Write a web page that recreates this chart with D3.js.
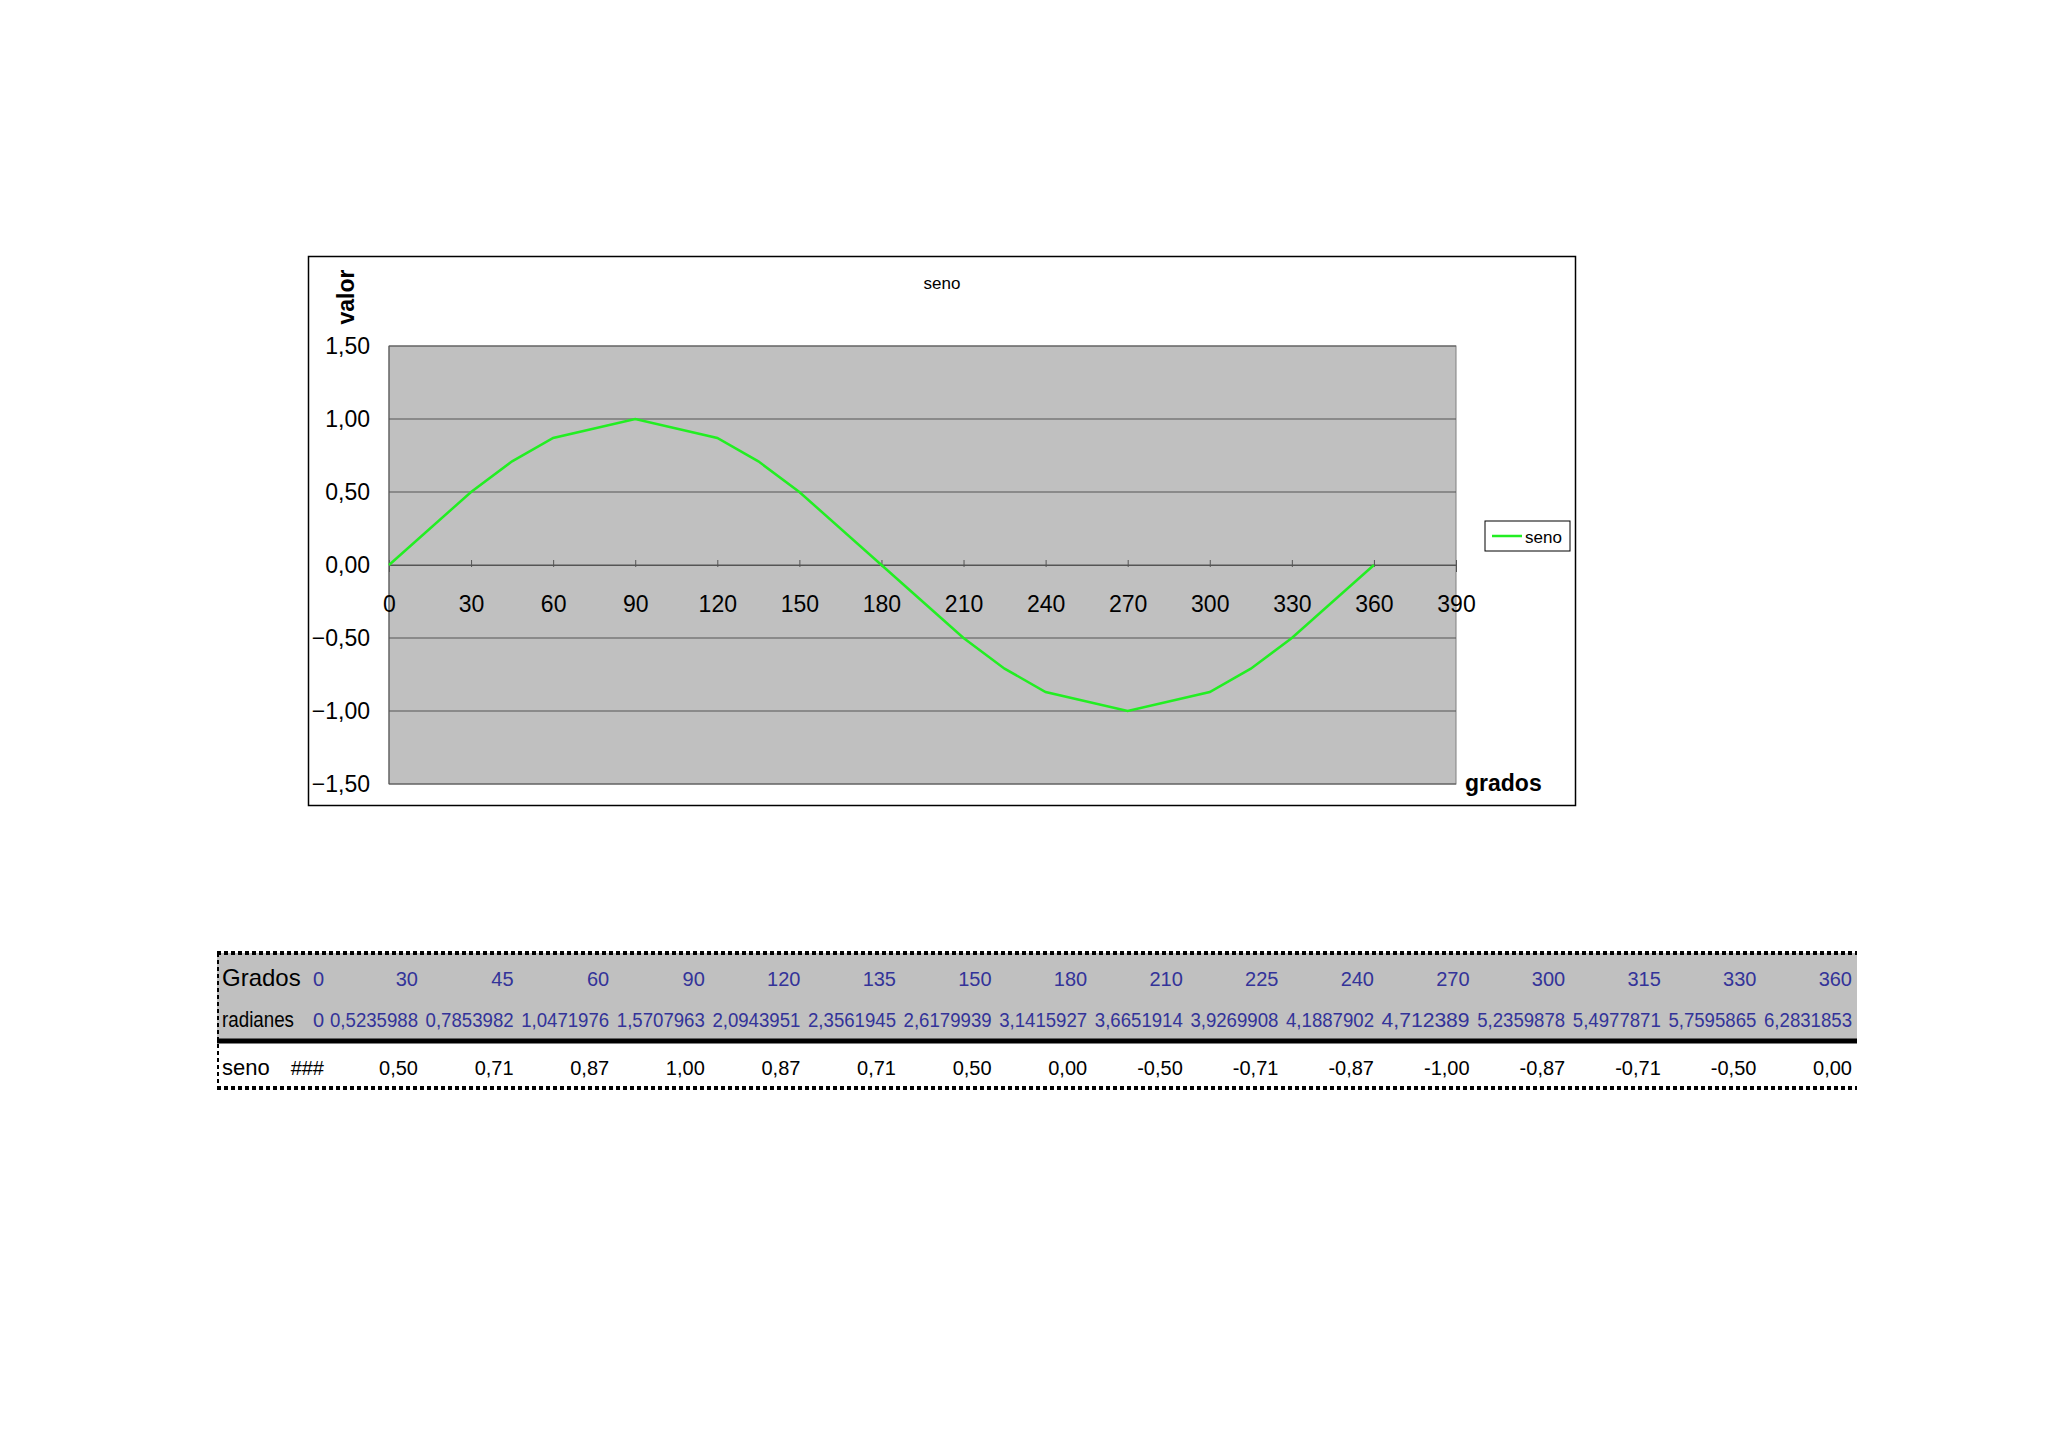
<!DOCTYPE html>
<html><head><meta charset="utf-8">
<script src="https://cdn.jsdelivr.net/npm/d3@7"></script>
<style>body{margin:0;background:#fff}</style></head>
<body><svg id="c" width="2048" height="1447"></svg>
<script>
const grados=[0,30,45,60,90,120,135,150,180,210,225,240,270,300,315,330,360];
const seno=[0,0.5,0.71,0.87,1,0.87,0.71,0.5,0,-0.5,-0.71,-0.87,-1,-0.87,-0.71,-0.5,0];
const radianesTxt=["0","0,5235988","0,7853982","1,0471976","1,5707963","2,0943951","2,3561945","2,6179939","3,1415927","3,6651914","3,9269908","4,1887902","4,712389","5,2359878","5,4977871","5,7595865","6,2831853"];
const senoTxt=["###","0,50","0,71","0,87","1,00","0,87","0,71","0,50","0,00","-0,50","-0,71","-0,87","-1,00","-0,87","-0,71","-0,50","0,00"];
const xTicks=d3.range(0,391,30);
const yTicks=[-1.5,-1,-0.5,0,0.5,1,1.5];

const svg=d3.select("#c");
const F="Arial, Liberation Sans, sans-serif";
svg.append("rect").attr("x",308.5).attr("y",256.5).attr("width",1267).attr("height",549).attr("fill","#fff").attr("stroke","#000").attr("stroke-width",1.5);
const x=d3.scaleLinear().domain([0,390]).range([389,1456]);
const y=d3.scaleLinear().domain([-1.5,1.5]).range([784,346]);
svg.append("rect").attr("x",389).attr("y",346).attr("width",1067).attr("height",438).attr("fill","#c0c0c0").attr("stroke","#808080");
svg.append("g").selectAll("line").data(yTicks).join("line").attr("x1",389).attr("x2",1456).attr("y1",d=>y(d)).attr("y2",d=>y(d)).attr("stroke","#555").attr("stroke-width",1);
// y axis
svg.append("line").attr("x1",389).attr("x2",389).attr("y1",346).attr("y2",784).attr("stroke","#555");
svg.append("g").selectAll("text").data(yTicks).join("text").attr("x",370).attr("y",d=>y(d)+8).attr("text-anchor","end").attr("font-family",F).attr("font-size",23).text(d=>d3.format(".2f")(d).replace(".",","));
// x axis at 0
const gx=svg.append("g").attr("transform",`translate(0,${y(0)})`).call(d3.axisBottom(x).tickValues(xTicks).tickSize(7).tickFormat(d=>d));
gx.select(".domain").attr("stroke","#555");
gx.selectAll(".tick line").attr("stroke","#555").attr("y1",-5).attr("y2",2);
gx.selectAll("text").attr("font-family",F).attr("font-size",23).attr("fill","#000").attr("y",31);
// line
svg.append("path").datum(grados.map((g,i)=>[g,seno[i]])).attr("fill","none").attr("stroke","#22ee22").attr("stroke-width",2.5)
 .attr("d",d3.line().x(d=>x(d[0])).y(d=>y(d[1])));
// titles
svg.append("text").attr("x",942).attr("y",289).attr("text-anchor","middle").attr("font-family",F).attr("font-size",17).text("seno");
svg.append("text").attr("transform","translate(354,297) rotate(-90)").attr("text-anchor","middle").attr("font-family",F).attr("font-size",23).attr("font-weight","bold").text("valor");
svg.append("text").attr("x",1465).attr("y",791).attr("font-family",F).attr("font-size",23).attr("font-weight","bold").text("grados");
// legend
svg.append("rect").attr("x",1485).attr("y",521).attr("width",85).attr("height",30).attr("fill","#fff").attr("stroke","#000");
svg.append("line").attr("x1",1492).attr("x2",1522).attr("y1",536).attr("y2",536).attr("stroke","#22ee22").attr("stroke-width",2.5);
svg.append("text").attr("x",1525).attr("y",543).attr("font-family",F).attr("font-size",17).text("seno");

// table
const tx0=217, tx1=1857;
svg.append("rect").attr("x",tx0).attr("y",953).attr("width",tx1-tx0).attr("height",86).attr("fill","#c0c0c0");
svg.append("line").attr("x1",tx0).attr("x2",tx1).attr("y1",953).attr("y2",953).attr("stroke","#000").attr("stroke-width",4).attr("stroke-dasharray","4,3");
svg.append("line").attr("x1",tx0).attr("x2",tx1).attr("y1",1041).attr("y2",1041).attr("stroke","#000").attr("stroke-width",5);
svg.append("line").attr("x1",tx0).attr("x2",tx1).attr("y1",1088).attr("y2",1088).attr("stroke","#000").attr("stroke-width",4).attr("stroke-dasharray","4,3");
svg.append("line").attr("x1",tx0+1).attr("x2",tx0+1).attr("y1",953).attr("y2",1088).attr("stroke","#000").attr("stroke-width",2).attr("stroke-dasharray","4,3");
const colR=i=> i===0?324:(418+95.6*(i-1));
const TF="Liberation Sans, Arial, sans-serif";
const rowTxt=(arr,yy,col)=>svg.append("g").selectAll("text").data(arr).join("text").attr("x",(d,i)=>colR(i)).attr("y",yy).attr("text-anchor","end").attr("font-family",TF).attr("font-size",20).attr("fill",col).attr("textLength",(d,i)=>d.length>5?88:null).attr("lengthAdjust","spacingAndGlyphs").text(d=>d);
svg.append("text").attr("x",222).attr("y",986).attr("font-family",TF).attr("font-size",24).text("Grados");
svg.append("text").attr("x",222).attr("y",1027).attr("font-family",TF).attr("font-size",22).attr("textLength",72).attr("lengthAdjust","spacingAndGlyphs").text("radianes");
svg.append("text").attr("x",222).attr("y",1075).attr("font-family",TF).attr("font-size",22).text("seno");
rowTxt(grados.map(String),986,"#333399");
rowTxt(radianesTxt,1027,"#333399");
rowTxt(senoTxt,1075,"#000");
</script></body></html>
